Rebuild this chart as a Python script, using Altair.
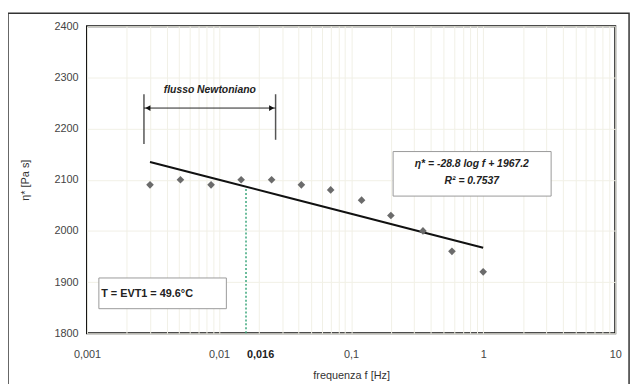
import altair as alt
import pandas as pd
import math

# ---- data ----
freq = [0.003, 0.0051, 0.0087, 0.0147, 0.025, 0.042, 0.07, 0.12, 0.2, 0.35, 0.58, 1.0]
eta = [2090, 2100, 2090, 2100, 2100, 2090, 2080, 2060, 2030, 2000, 1960, 1920]

trend_slope = -28.8      # fitted on ln(f)
trend_intercept = 1967.2
trend_f = [0.003, 0.01, 0.03, 0.1, 0.3, 1.0]

f_crit = 0.016
newton_f = [0.0027, 0.0268]
newton_y_bottom = [2170, 2178]
newton_y_top = 2267
newton_arrow_y = 2240
newton_text_y = 2275

x_tick_values = [0.001, 0.01, 0.1, 1, 10]
x_tick_labels = ["0,001", "0,01", "0,1", "1", "10"]
x_grid = [m * d for d in [0.001, 0.01, 0.1, 1] for m in range(1, 10)] + [10]
y_ticks = [1800, 1900, 2000, 2100, 2200, 2300, 2400]

eq_text = ["η* = -28.8 log f + 1967.2", "R² = 0.7537"]
t_text = "T = EVT1 = 49.6°C"

FONT = "Liberation Sans"
W, H = 535, 311

df_pts = pd.DataFrame({"f": freq, "eta": eta})
df_trend = pd.DataFrame({"f": trend_f,
                         "eta": [trend_slope * math.log(v) + trend_intercept for v in trend_f]})

label_expr = "".join(
    f"abs(datum.value-{v})<{v}*1e-6 ? '{l}' : " for v, l in zip(x_tick_values, x_tick_labels)
) + "''"

xscale = alt.Scale(type="log", domain=[0.001, 10])
yscale = alt.Scale(domain=[1800, 2400])
GRID = "#f1f0e6"

x_enc = alt.X("f:Q", scale=xscale,
              axis=alt.Axis(values=x_grid, labelExpr=label_expr, ticks=False, domain=False,
                            grid=True, gridColor=GRID, gridWidth=1,
                            labelFont=FONT, labelFontSize=11, labelColor="#444",
                            labelPadding=16, labelFlush=False,
                            title="frequenza f [Hz]", titleFont=FONT, titleFontSize=11,
                            titleFontWeight="normal", titleColor="#333", titlePadding=10))
y_enc = alt.Y("eta:Q", scale=yscale,
              axis=alt.Axis(values=y_ticks, format="d", ticks=False, domain=False, grid=True,
                            gridColor=GRID, gridWidth=1,
                            labelFont=FONT, labelFontSize=11, labelColor="#444",
                            labelPadding=9,
                            title="η* [Pa s]", titleFont=FONT, titleFontSize=11,
                            titleFontWeight="normal", titleColor="#333", titlePadding=24))

base_pts = alt.Chart(df_pts).mark_point(shape="diamond", filled=True, color="#6b6b6b",
                                        size=60, opacity=1).encode(x=x_enc, y=y_enc)

trend = alt.Chart(df_trend).mark_line(color="#111", strokeWidth=2).encode(
    x=alt.X("f:Q", scale=xscale), y=alt.Y("eta:Q", scale=yscale))

# green dotted vertical at critical frequency
crit_y = trend_slope * math.log(f_crit) + trend_intercept
df_crit = pd.DataFrame({"f": [f_crit], "y0": [1800], "y1": [crit_y]})
crit = alt.Chart(df_crit).mark_rule(color="#3aa67a", strokeDash=[2, 2], strokeWidth=1.5).encode(
    x=alt.X("f:Q", scale=xscale), y=alt.Y("y0:Q", scale=yscale), y2="y1:Q")
crit_lbl = alt.Chart(df_crit).mark_text(text="0,016", font=FONT, fontSize=11, fontWeight="bold",
                                        color="#222", align="left", baseline="middle", dx=1).encode(
    x=alt.X("f:Q", scale=xscale), y=alt.value(H + 22))

# Newtonian flow annotation
df_nv = pd.DataFrame({"f": newton_f, "y0": newton_y_bottom, "y1": [newton_y_top] * 2})
nv = alt.Chart(df_nv).mark_rule(color="#555", strokeWidth=1.5).encode(
    x=alt.X("f:Q", scale=xscale), y=alt.Y("y0:Q", scale=yscale), y2="y1:Q")
df_na = pd.DataFrame({"f0": [newton_f[0]], "f1": [newton_f[1]], "y": [newton_arrow_y]})
na = alt.Chart(df_na).mark_rule(color="#222", strokeWidth=1).encode(
    x=alt.X("f0:Q", scale=xscale), x2="f1:Q", y=alt.Y("y:Q", scale=yscale))
df_heads = pd.DataFrame({"f": newton_f, "y": [newton_arrow_y] * 2})
heads_l = alt.Chart(df_heads.iloc[[0]]).mark_point(shape="triangle-left", filled=True, color="#111",
                                                    size=35, opacity=1, xOffset=4).encode(
    x=alt.X("f:Q", scale=xscale), y=alt.Y("y:Q", scale=yscale))
heads_r = alt.Chart(df_heads.iloc[[1]]).mark_point(shape="triangle-right", filled=True, color="#111",
                                                    size=35, opacity=1, xOffset=-4).encode(
    x=alt.X("f:Q", scale=xscale), y=alt.Y("y:Q", scale=yscale))
df_nt = pd.DataFrame({"f": [math.sqrt(newton_f[0] * newton_f[1])], "y": [newton_text_y]})
nt = alt.Chart(df_nt).mark_text(text="flusso Newtoniano", font=FONT, fontSize=10.5, fontStyle="italic",
                                fontWeight="bold", color="#222").encode(
    x=alt.X("f:Q", scale=xscale), y=alt.Y("y:Q", scale=yscale))

# equation box
df_eqbox = pd.DataFrame({"f0": [0.208], "f1": [3.27], "y0": [2068], "y1": [2155]})
eqbox = alt.Chart(df_eqbox).mark_rect(fill="white", stroke="#999", strokeWidth=1).encode(
    x=alt.X("f0:Q", scale=xscale), x2="f1:Q", y=alt.Y("y0:Q", scale=yscale), y2="y1:Q")
df_eq = pd.DataFrame({"f": [0.82, 0.82], "y": [2131, 2097], "t": eq_text})
eq = alt.Chart(df_eq).mark_text(font=FONT, fontSize=10.5, fontStyle="italic", fontWeight="bold",
                                color="#222").encode(
    x=alt.X("f:Q", scale=xscale), y=alt.Y("y:Q", scale=yscale), text="t:N")

# temperature box
df_tbox = pd.DataFrame({"f0": [0.00123], "f1": [0.01136], "y0": [1848], "y1": [1908]})
tbox = alt.Chart(df_tbox).mark_rect(fill="white", stroke="#999", strokeWidth=1).encode(
    x=alt.X("f0:Q", scale=xscale), x2="f1:Q", y=alt.Y("y0:Q", scale=yscale), y2="y1:Q")
df_t = pd.DataFrame({"f": [0.00128], "y": [1877]})
tt = alt.Chart(df_t).mark_text(text=t_text, font=FONT, fontSize=11, fontWeight="bold",
                               color="#222", align="left").encode(
    x=alt.X("f:Q", scale=xscale), y=alt.Y("y:Q", scale=yscale))

# outer frame of the figure
frame = alt.Chart(pd.DataFrame({"a": [0]})).mark_rect(fill=None, stroke="#333", strokeWidth=1.5,
                                                      clip=False).encode(
    x=alt.value(-80), x2=alt.value(W + 14), y=alt.value(-13), y2=alt.value(H + 60))

chart = alt.layer(frame, crit, trend, base_pts, nv, na, heads_l, heads_r, nt, eqbox, eq, tbox, tt,
                  crit_lbl).properties(
    width=W, height=H, autosize=alt.AutoSizeParams(type="none"),
    padding={"left": 80, "top": 16, "right": 19, "bottom": 49},
    background="white",
).configure_view(stroke="#111", strokeWidth=2, fill="white")

chart.save("out.html", embed_options={"renderer": "svg", "actions": False})
